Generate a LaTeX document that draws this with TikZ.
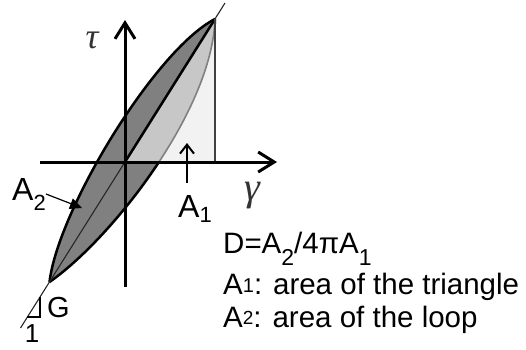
\documentclass[tikz,border=0pt]{standalone}
\usepackage{fontspec}
\setmainfont{Liberation Sans}
\newfontfamily\grkfont{Liberation Serif}
\usetikzlibrary{arrows.meta, positioning}

\definecolor{loopdark}{gray}{0.5}
\definecolor{looplight}{gray}{0.78}
\definecolor{trifill}{gray}{0.95}

\newcommand{\fsz}[1]{\fontsize{#1}{#1}\selectfont}

\begin{document}
\begin{tikzpicture}[x=1pt, y=1pt,
  axis/.style={line width=3pt, -{Straight Barb[length=16pt, width=20pt]}},
  outline/.style={line width=2.5pt, line join=miter},
  tiparr/.style={line width=2pt, -{Straight Barb[length=9pt, width=14pt]}},
  looparr/.style={line width=1.2pt, -{Triangle[length=12pt, width=11pt]}},
  lbl/.style={inner sep=0pt, anchor=base west, font=\fsz{32}},
  txt/.style={inner sep=0pt, anchor=base west, font=\fsz{29.5}},
  greek/.style={inner sep=0pt, text=black!80}
]
\useasboundingbox (-125,-187) rectangle (401,162);

% corners of the loop and the triangle
\coordinate (O) at (0,0);
\coordinate (T) at (90,143);
\coordinate (B) at (-75.5,-120);
\coordinate (F) at (90,0);

% loop
\fill[loopdark] (B) .. controls (-67,-48) and (30,112) .. (T)
  .. controls (87,50) and (-15,-78) .. (B) -- cycle;
\draw[outline] (T) .. controls (87,50) and (-15,-78) .. (B);

% triangle A1
\begin{scope}
  \clip (O) -- (F) -- (T) -- cycle;
  \fill[trifill] (O) -- (F) -- (T) -- cycle;
  \fill[looplight] (B) .. controls (-67,-48) and (30,112) .. (T)
    .. controls (87,50) and (-15,-78) .. (B) -- cycle;
  \draw[line width=1.6pt, gray] (T) .. controls (87,50) and (-15,-78) .. (B);
\end{scope}
\draw[outline] (B) .. controls (-67,-48) and (30,112) .. (T);

% slope G
\coordinate (dlo) at (-104.5,-166);
\coordinate (dhi) at (100,159);
\draw[line width=1.1pt, black!85] (dlo) -- (dhi);
\draw[line width=2.5pt] (O) -- (T);
\draw[line width=1.4pt, black!75] (F) -- (T);
\draw[line width=1.1pt] (-85,-135) -- (-85,-155) -- (-97.5,-155);

% axes
\coordinate (ybot) at (0,-125);
\coordinate (ytop) at (0,142);
\coordinate (xlft) at (-85,0);
\coordinate (xrgt) at (152,0);
\draw[axis] (ybot) -- (ytop);
\draw[axis] (xlft) -- (xrgt);

\node[greek, font=\grkfont\itshape\fsz{36}] (tau) at (-33,122) {τ};
\node[greek, font=\grkfont\itshape\fsz{40}] (gam) at (127,-34) {γ};

% area labels
\node[lbl] (lA1) at (53,-55) {A\raisebox{-5pt}{\fsz{22}1}};
\coordinate (sA1) at (62,-21);
\coordinate (pA1) at (62,19);
\draw[tiparr] (sA1) -- (pA1);

\node[lbl] (lA2) at (-113,-38) {A\raisebox{-10pt}{\fsz{22}2}};
\coordinate (pA2) at (-43,-46);
\draw[looparr] (lA2.east) -- (pA2);

\node[inner sep=0pt, font=\fsz{29}] (lG) at (-66.5,-145.5) {G};
\node[inner sep=0pt, font=\fsz{26}] (lone) at (-93,-172) {1};

% definitions
\node[txt] (def) at (98,-91)
  {D=A\raisebox{-12pt}{\fsz{23}2}/4πA\raisebox{-12pt}{\fsz{23}1}};
\node[txt] (defA1) at (98,-132) {A\raisebox{2pt}{\fsz{20}1}: area of the triangle};
\node[txt] (defA2) at (98,-165) {A\raisebox{3pt}{\fsz{19}2}: area of the loop};
\end{tikzpicture}
\end{document}
